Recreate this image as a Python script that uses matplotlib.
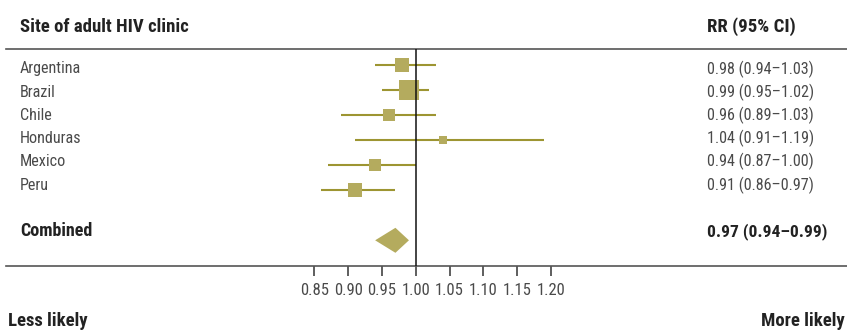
import matplotlib
matplotlib.use("Agg")
import matplotlib.pyplot as plt
from matplotlib import font_manager
from matplotlib.patches import Polygon

# ---- data -------------------------------------------------------------
sites = ["Argentina", "Brazil", "Chile", "Honduras", "Mexico", "Peru"]
rr = [0.98, 0.99, 0.96, 1.04, 0.94, 0.91]
ci_low = [0.94, 0.95, 0.89, 0.91, 0.87, 0.86]
ci_high = [1.03, 1.02, 1.03, 1.19, 1.00, 0.97]
weights = [17.6, 39.5, 11.5, 4.4, 11.8, 15.2]   # relative study weight (%)

combined_label = "Combined"
combined_rr = 0.97
combined_low = 0.94
combined_high = 0.99

x_ticks = [0.85, 0.90, 0.95, 1.00, 1.05, 1.10, 1.15, 1.20]
header_left = "Site of adult HIV clinic"
header_right = "RR (95% CI)"
footer_left = "Less likely"
footer_right = "More likely"

# ---- style ------------------------------------------------------------
available = {f.name for f in font_manager.fontManager.ttflist}
family = "Liberation Sans"
for cand in ["Liberation Sans Narrow", "Roboto Condensed", "Open Sans Condensed",
             "DejaVu Sans Condensed"]:
    if cand in available:
        family = cand
        break
plt.rcParams["font.family"] = [family, "DejaVu Sans"]

FILL = "#b4ab5e"
LINE = "#9d9532"
TEXT = "#4a4a4a"
RULE = "#555555"

W, H, DPI = 847, 332, 100
fig = plt.figure(figsize=(W / DPI, H / DPI), dpi=DPI)

# plot panel: spans the full width between the two horizontal rules
px_left, px_right = 6, 847
px_top, px_bottom = 49, 266
ax = fig.add_axes([px_left / W, 1 - px_bottom / H,
                   (px_right - px_left) / W, (px_bottom - px_top) / H])

# x scale: 1.00 sits at pixel 415.7, 0.05 RR per 33.8 px
x0_px, px_per_unit = 415.7, 676.0
ax.set_xlim(1 + (px_left - x0_px) / px_per_unit, 1 + (px_right - x0_px) / px_per_unit)

# rows: 25 px apart, first row 16 px below the top rule
row_pitch, first_row = 25.0, 16.3
ax.set_ylim((px_bottom - px_top - first_row) / row_pitch, -first_row / row_pitch)

rows = list(range(len(sites)))
combined_row = len(sites) + 1

for r, est, lo, hi, w in zip(rows, rr, ci_low, ci_high, weights):
    ax.plot([lo, hi], [r, r], color=LINE, lw=1.5, solid_capstyle="butt", zorder=2)
    side_px = 3.34 * w ** 0.5
    ax.plot([est], [r], marker="s", ms=side_px * 72 / DPI, color=FILL,
            markeredgewidth=0, zorder=3)

# diamond for the pooled estimate
half_h = 12.5 / row_pitch
diamond = Polygon([[combined_low, combined_row], [combined_rr, combined_row - half_h],
                   [combined_high, combined_row], [combined_rr, combined_row + half_h]],
                  closed=True, facecolor=FILL, edgecolor="none", zorder=3)
ax.add_patch(diamond)

ax.axvline(1.0, color="#111111", lw=1.1, zorder=4)

for side in ["left", "right"]:
    ax.spines[side].set_visible(False)
for side in ["top", "bottom"]:
    ax.spines[side].set_color(RULE)
    ax.spines[side].set_linewidth(1.2)

ax.set_yticks([])
ax.set_xticks(x_ticks)
ax.set_xticklabels([f"{t:.2f}" for t in x_ticks])
ax.tick_params(axis="x", direction="out", length=7, width=1.1, color="#333333",
               labelsize=12, labelcolor=TEXT, pad=5)

# ---- text columns -------------------------------------------------------
def fy(px):
    return 1 - px / H

text_top, text_pitch = 69.0, 23.2
label_x, value_x = 20 / W, 707 / W

fig.text(label_x, fy(27), header_left, fontsize=13.5, fontweight="bold",
         color="#222222", va="center", ha="left")
fig.text(value_x, fy(27), header_right, fontsize=13.5, fontweight="bold",
         color="#222222", va="center", ha="left")

for r, name, est, lo, hi in zip(rows, sites, rr, ci_low, ci_high):
    y = fy(text_top + text_pitch * r)
    fig.text(label_x, y, name, fontsize=11.6, color=TEXT, va="center", ha="left")
    fig.text(value_x, y, f"{est:.2f} ({lo:.2f}\u2013{hi:.2f})", fontsize=11.6,
             color=TEXT, va="center", ha="left")

yc = fy(text_top + text_pitch * combined_row)
fig.text(label_x, yc, combined_label, fontsize=13, fontweight="bold",
         color="#222222", va="center", ha="left")
fig.text(value_x, yc,
         f"{combined_rr:.2f} ({combined_low:.2f}\u2013{combined_high:.2f})",
         fontsize=12.6, fontweight="bold", color="#222222", va="center", ha="left")

fig.text(8 / W, fy(321), footer_left, fontsize=13.5, fontweight="bold",
         color="#222222", va="center", ha="left")
fig.text(845 / W, fy(321), footer_right, fontsize=13.5, fontweight="bold",
         color="#222222", va="center", ha="right")

fig.savefig("out.png", dpi=DPI)
